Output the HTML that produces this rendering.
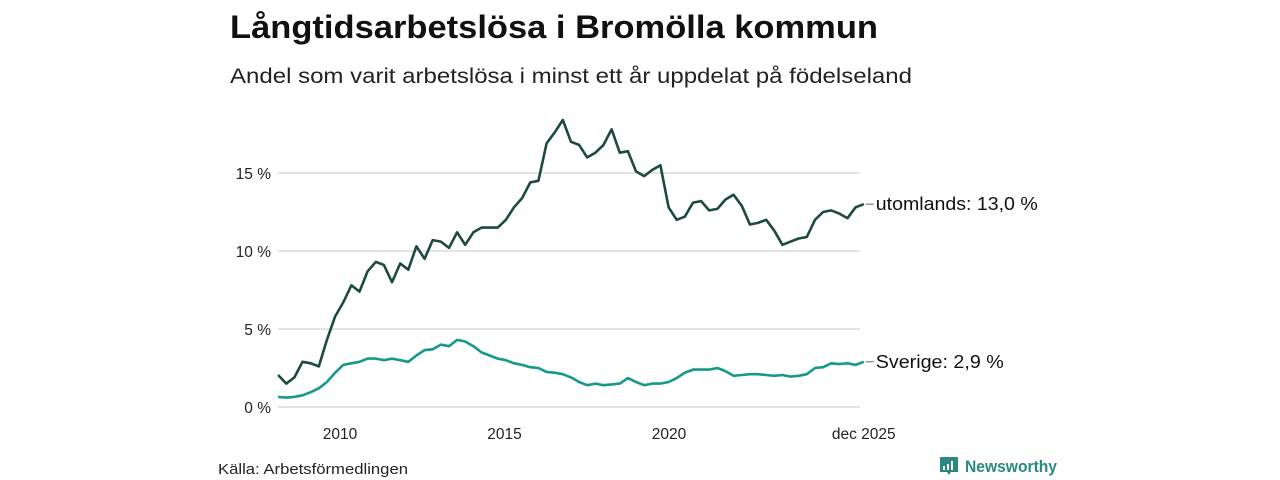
<!DOCTYPE html>
<html><head><meta charset="utf-8"><style>
body{margin:0;width:1280px;height:480px;background:#fff;overflow:hidden;font-family:"Liberation Sans","DejaVu Sans",sans-serif;}
svg{position:absolute;left:0;top:0}
</style></head><body>
<svg width="1280" height="480" id="chart">
<text x="230" y="38" font-size="32" font-weight="bold" fill="#111" textLength="648" lengthAdjust="spacingAndGlyphs">Långtidsarbetslösa i Bromölla kommun</text>
<text x="230" y="83" font-size="21" fill="#222" textLength="682" lengthAdjust="spacingAndGlyphs">Andel som varit arbetslösa i minst ett år uppdelat på födelseland</text>
<g id="grid"></g>
<g id="yticks"></g>
<g id="xticks"></g>
<g id="series"></g>
<text x="218" y="474" font-size="15" fill="#222" textLength="190" lengthAdjust="spacingAndGlyphs">Källa: Arbetsförmedlingen</text>
<g>
<path d="M940 457h18v15h-7l-2 3-2-3h-7z" fill="#2a8a7f"/>
<rect x="943" y="466" width="2" height="4" fill="#fff"/><rect x="947" y="464" width="2" height="6" fill="#fff"/><rect x="951" y="461" width="2" height="9" fill="#fff"/>
<text x="965" y="472" font-size="17" font-weight="bold" fill="#2a8a7f" textLength="92" lengthAdjust="spacingAndGlyphs">Newsworthy</text>
</g>
</svg>
<script>
const dates=[];for(let i=0;i<73;i++)dates.push(2008.12+i*(2025.92-2008.12)/72);
const utomlands=[2.05,1.5,1.9,2.9,2.8,2.6,4.3,5.8,6.7,7.8,7.4,8.7,9.3,9.1,8.0,9.2,8.8,10.3,9.5,10.7,10.6,10.2,11.2,10.4,11.2,11.5,11.5,11.5,12.0,12.8,13.4,14.4,14.5,16.9,17.6,18.4,17.0,16.8,16.0,16.3,16.8,17.8,16.3,16.4,15.1,14.8,15.2,15.5,12.8,12.0,12.2,13.1,13.2,12.6,12.7,13.3,13.6,12.9,11.7,11.8,12.0,11.3,10.4,10.6,10.8,10.9,12.0,12.5,12.6,12.4,12.1,12.8,13.0];
const sverige=[0.65,0.6,0.65,0.75,0.95,1.2,1.6,2.2,2.7,2.8,2.9,3.1,3.1,3.0,3.1,3.0,2.9,3.3,3.65,3.7,4.0,3.9,4.3,4.2,3.9,3.5,3.3,3.1,3.0,2.8,2.7,2.55,2.5,2.25,2.2,2.1,1.9,1.6,1.4,1.5,1.4,1.45,1.5,1.85,1.6,1.4,1.5,1.5,1.6,1.85,2.2,2.4,2.4,2.4,2.5,2.3,2.0,2.05,2.1,2.1,2.05,2.0,2.05,1.95,2.0,2.1,2.5,2.55,2.8,2.75,2.8,2.7,2.9];
const yTicks=[0,5,10,15];const yLabels=["0 %","5 %","10 %","15 %"];
const xTicks=[2010,2015,2020,2025.92];const xLabels=["2010","2015","2020","dec 2025"];
const NS="http://www.w3.org/2000/svg";
const X=t=>340+(t-2010)*32.9, Y=v=>407-v*15.6;
function mk(tag,attrs,parent,txt){const e=document.createElementNS(NS,tag);for(const k in attrs)e.setAttribute(k,attrs[k]);if(txt!==undefined)e.textContent=txt;document.getElementById(parent).appendChild(e);return e;}
yTicks.forEach((v,i)=>{
 const g=mk('line',{x1:278,x2:860,y1:Y(v),y2:Y(v),stroke:'#dcdcdc','stroke-width':1.5},'grid');
 
 
 const t=mk('text',{x:271,y:Y(v)+6,'font-size':15.5,'text-anchor':'end',fill:'#222'},'yticks',yLabels[i]);
 
 
});
xTicks.forEach((v,i)=>{
 const t=mk('text',{x:X(v),y:439,'font-size':15.5,'text-anchor':'middle',fill:'#222'},'xticks',xLabels[i]);
 
 
});
function line(vals,color,name,label,ly,len){
 const d=vals.map((v,i)=>(i?'L':'M')+X(dates[i]).toFixed(1)+' '+Y(v).toFixed(1)).join('');
 const p=mk('path',{d:d,fill:'none',stroke:color,'stroke-width':2.6,'stroke-linejoin':'round'},'series');
 
 
 const last=vals[vals.length-1],lx=X(dates[dates.length-1]);
 const l=mk('line',{x1:lx+2,x2:lx+10,y1:Y(last),y2:Y(last),stroke:'#666','stroke-width':1},'series');
 
 
 const t=mk('text',{x:lx+12,y:Y(last)+6,'font-size':18,fill:'#111',textLength:len,lengthAdjust:'spacingAndGlyphs'},'series',label+last.toFixed(1).replace('.',',')+' %');
 
 
}
line(sverige,'#17998a','sverige-line','Sverige:  ',0,128);
line(utomlands,'#1d4a40','utomlands-line','utomlands: ',0,162);
</script>
</body></html>
